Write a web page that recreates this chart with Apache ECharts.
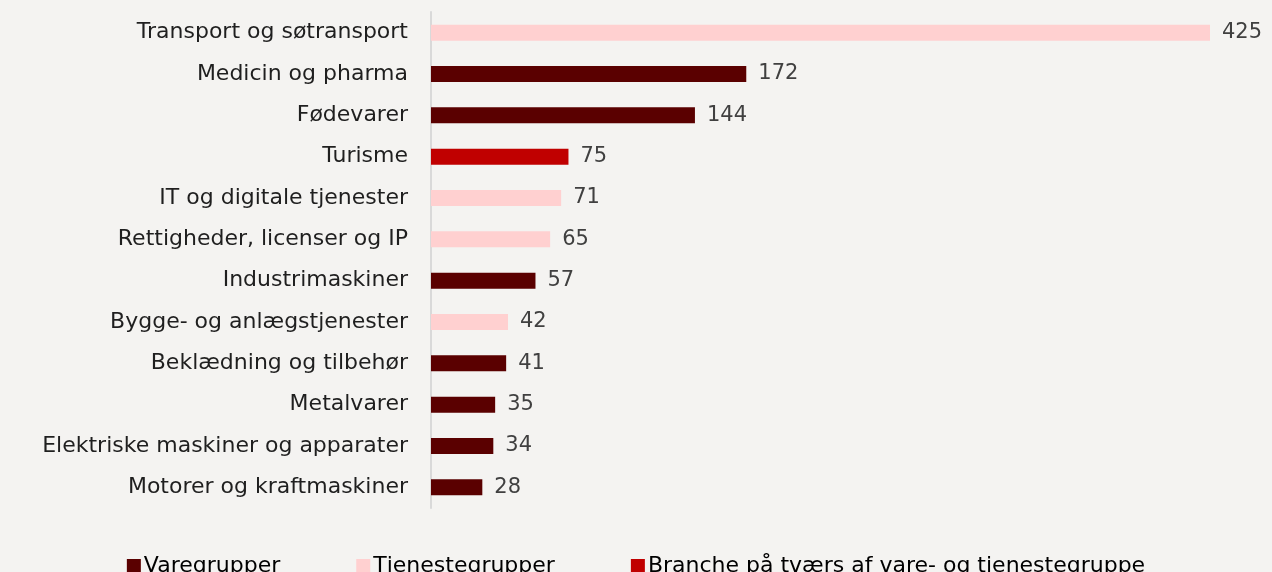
<!DOCTYPE html>
<html><head><meta charset="utf-8">
<script src="https://cdn.jsdelivr.net/npm/echarts@6/dist/echarts.min.js"></script>
<style>html,body{margin:0;padding:0;background:#f4f3f1;}#c{width:1272px;height:572px;}</style>
</head><body><div id="c"></div>
<script>
const categories = ["Transport og søtransport","Medicin og pharma","Fødevarer","Turisme","IT og digitale tjenester","Rettigheder, licenser og IP","Industrimaskiner","Bygge- og anlægstjenester","Beklædning og tilbehør","Metalvarer","Elektriske maskiner og apparater","Motorer og kraftmaskiner"];
const values = [425,172,144,75,71,65,57,42,41,35,34,28];
const groups = ["T","V","V","B","T","T","V","T","V","V","V","V"];
const seriesNames = {V:"Varegrupper",T:"Tjenestegrupper",B:"Branche på tværs af vare- og tjenestegruppe"};
const colors = {V:"#5a0000",T:"#ffd0d0",B:"#c00000"};
const font = "DejaVu Sans";
const chart = echarts.init(document.getElementById('c'));
const series = ["V","T","B"].map(g => ({
  name: seriesNames[g], type:'bar', stack:'s', barWidth:16,
  itemStyle:{color:colors[g]},
  label:{show:true, position:'right', distance:12, color:'#404040', fontSize:21, fontFamily:font},
  data: values.map((v,i)=> groups[i]===g ? v : '-')
}));
chart.setOption({
  backgroundColor:'#f4f3f1',
  animation:false,
  grid:{left:431, right:62, top:12, bottom:64, containLabel:false},
  xAxis:{type:'value', min:0, max:425, show:false},
  yAxis:{type:'category', inverse:true, data:categories,
    axisLine:{show:true, lineStyle:{color:'#d9d9d9', width:2}},
    axisTick:{show:false},
    axisLabel:{color:'#1f1f1f', fontSize:22, fontFamily:font, margin:23}},
  legend:{bottom:-10, left:'center', itemWidth:14, itemHeight:14, itemGap:76,
    icon:'rect', textStyle:{color:'#000', fontSize:22, fontFamily:font, padding:[0,0,0,-2]},
    data:series.map(s=>s.name)},
  series
});
</script></body></html>
